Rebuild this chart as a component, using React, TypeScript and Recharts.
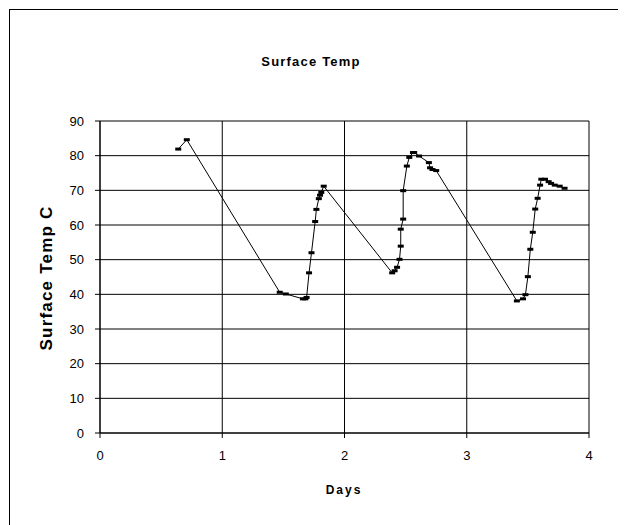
import React from 'react';
import { LineChart, Line, XAxis, YAxis, CartesianGrid } from 'recharts';

// readings taken off the logger plot
const days = [
  0.64, 0.71, 1.47, 1.52, 1.66, 1.68, 1.69, 1.71, 1.73, 1.76, 1.77, 1.79, 1.8, 1.81, 1.83,
  2.39, 2.41, 2.43, 2.45, 2.46, 2.46, 2.48, 2.48, 2.51, 2.53, 2.56, 2.57, 2.61, 2.69, 2.7, 2.72, 2.75,
  3.41, 3.46, 3.48, 3.5, 3.52, 3.54, 3.56, 3.58, 3.6, 3.61, 3.64, 3.67, 3.69, 3.72, 3.76, 3.8,
];
const temps = [
  81.9, 84.6, 40.6, 40.1, 38.7, 38.7, 39.1, 46.2, 52.0, 61.0, 64.5, 67.6, 68.6, 69.4, 71.2,
  46.2, 46.8, 47.8, 50.1, 53.9, 58.8, 61.7, 69.9, 77.0, 79.5, 80.9, 80.9, 79.9, 78.0, 76.5, 76.0, 75.7,
  38.1, 38.7, 39.9, 45.1, 53.0, 57.9, 64.6, 67.7, 71.5, 73.2, 73.2, 72.5, 72.0, 71.5, 71.2, 70.6,
];
const dayTicks = [0, 1, 2, 3, 4];
const tempTicks = [0, 10, 20, 30, 40, 50, 60, 70, 80, 90];

const chartData = days.map((d, i) => ({ day: d, temp: temps[i] }));

const font = '"Liberation Sans", Arial, sans-serif';

const DashMarker = (props: any) => {
  const { cx, cy, index } = props;
  if (cx == null || cy == null) return null;
  return <rect key={index} x={cx - 3} y={cy - 1.5} width={6} height={3} fill="#000" />;
};

export default function App() {
  return (
    <div style={{ position: 'relative', width: 618, height: 517, overflow: 'hidden', fontFamily: font }}>
      <div
        style={{
          position: 'absolute', left: 1, top: 1, width: 700, height: 600,
          border: '1px solid #000', boxSizing: 'border-box',
        }}
      />
      <div
        style={{
          position: 'absolute', left: 303, top: 46, transform: 'translateX(-50%)',
          fontSize: 13, fontWeight: 'bold', letterSpacing: 1.2, lineHeight: '16px', whiteSpace: 'nowrap',
        }}
      >
        Surface Temp
      </div>
      <div
        style={{
          position: 'absolute', left: 39, top: 270, transform: 'translate(-50%, -50%) rotate(-90deg)',
          fontSize: 17, fontWeight: 'bold', letterSpacing: 1.2, lineHeight: '18px', whiteSpace: 'nowrap',
        }}
      >
        Surface Temp C
      </div>
      <div
        style={{
          position: 'absolute', left: 336, top: 475, transform: 'translateX(-50%)',
          fontSize: 12, fontWeight: 'bold', letterSpacing: 2, lineHeight: '14px', whiteSpace: 'nowrap',
        }}
      >
        Days
      </div>
      <div style={{ position: 'absolute', left: 0, top: 0 }}>
        <LineChart width={618} height={517} data={chartData} margin={{ top: 113, right: 37, bottom: 62, left: 0 }}>
          <CartesianGrid stroke="#000" strokeWidth={1} />
          <XAxis
            dataKey="day"
            type="number"
            domain={[0, 4]}
            ticks={dayTicks}
            height={30}
            tickSize={5}
            tickMargin={13}
            stroke="#000"
            tick={{ fill: '#000', fontSize: 13, fontFamily: font }}
          />
          <YAxis
            dataKey="temp"
            type="number"
            domain={[0, 90]}
            ticks={tempTicks}
            width={92}
            tickSize={5}
            tickMargin={11}
            stroke="#000"
            tick={{ fill: '#000', fontSize: 13, fontFamily: font }}
          />
          <Line
            dataKey="temp"
            type="linear"
            stroke="#000"
            strokeWidth={1}
            dot={DashMarker}
            activeDot={false}
            isAnimationActive={false}
          />
        </LineChart>
      </div>
    </div>
  );
}
